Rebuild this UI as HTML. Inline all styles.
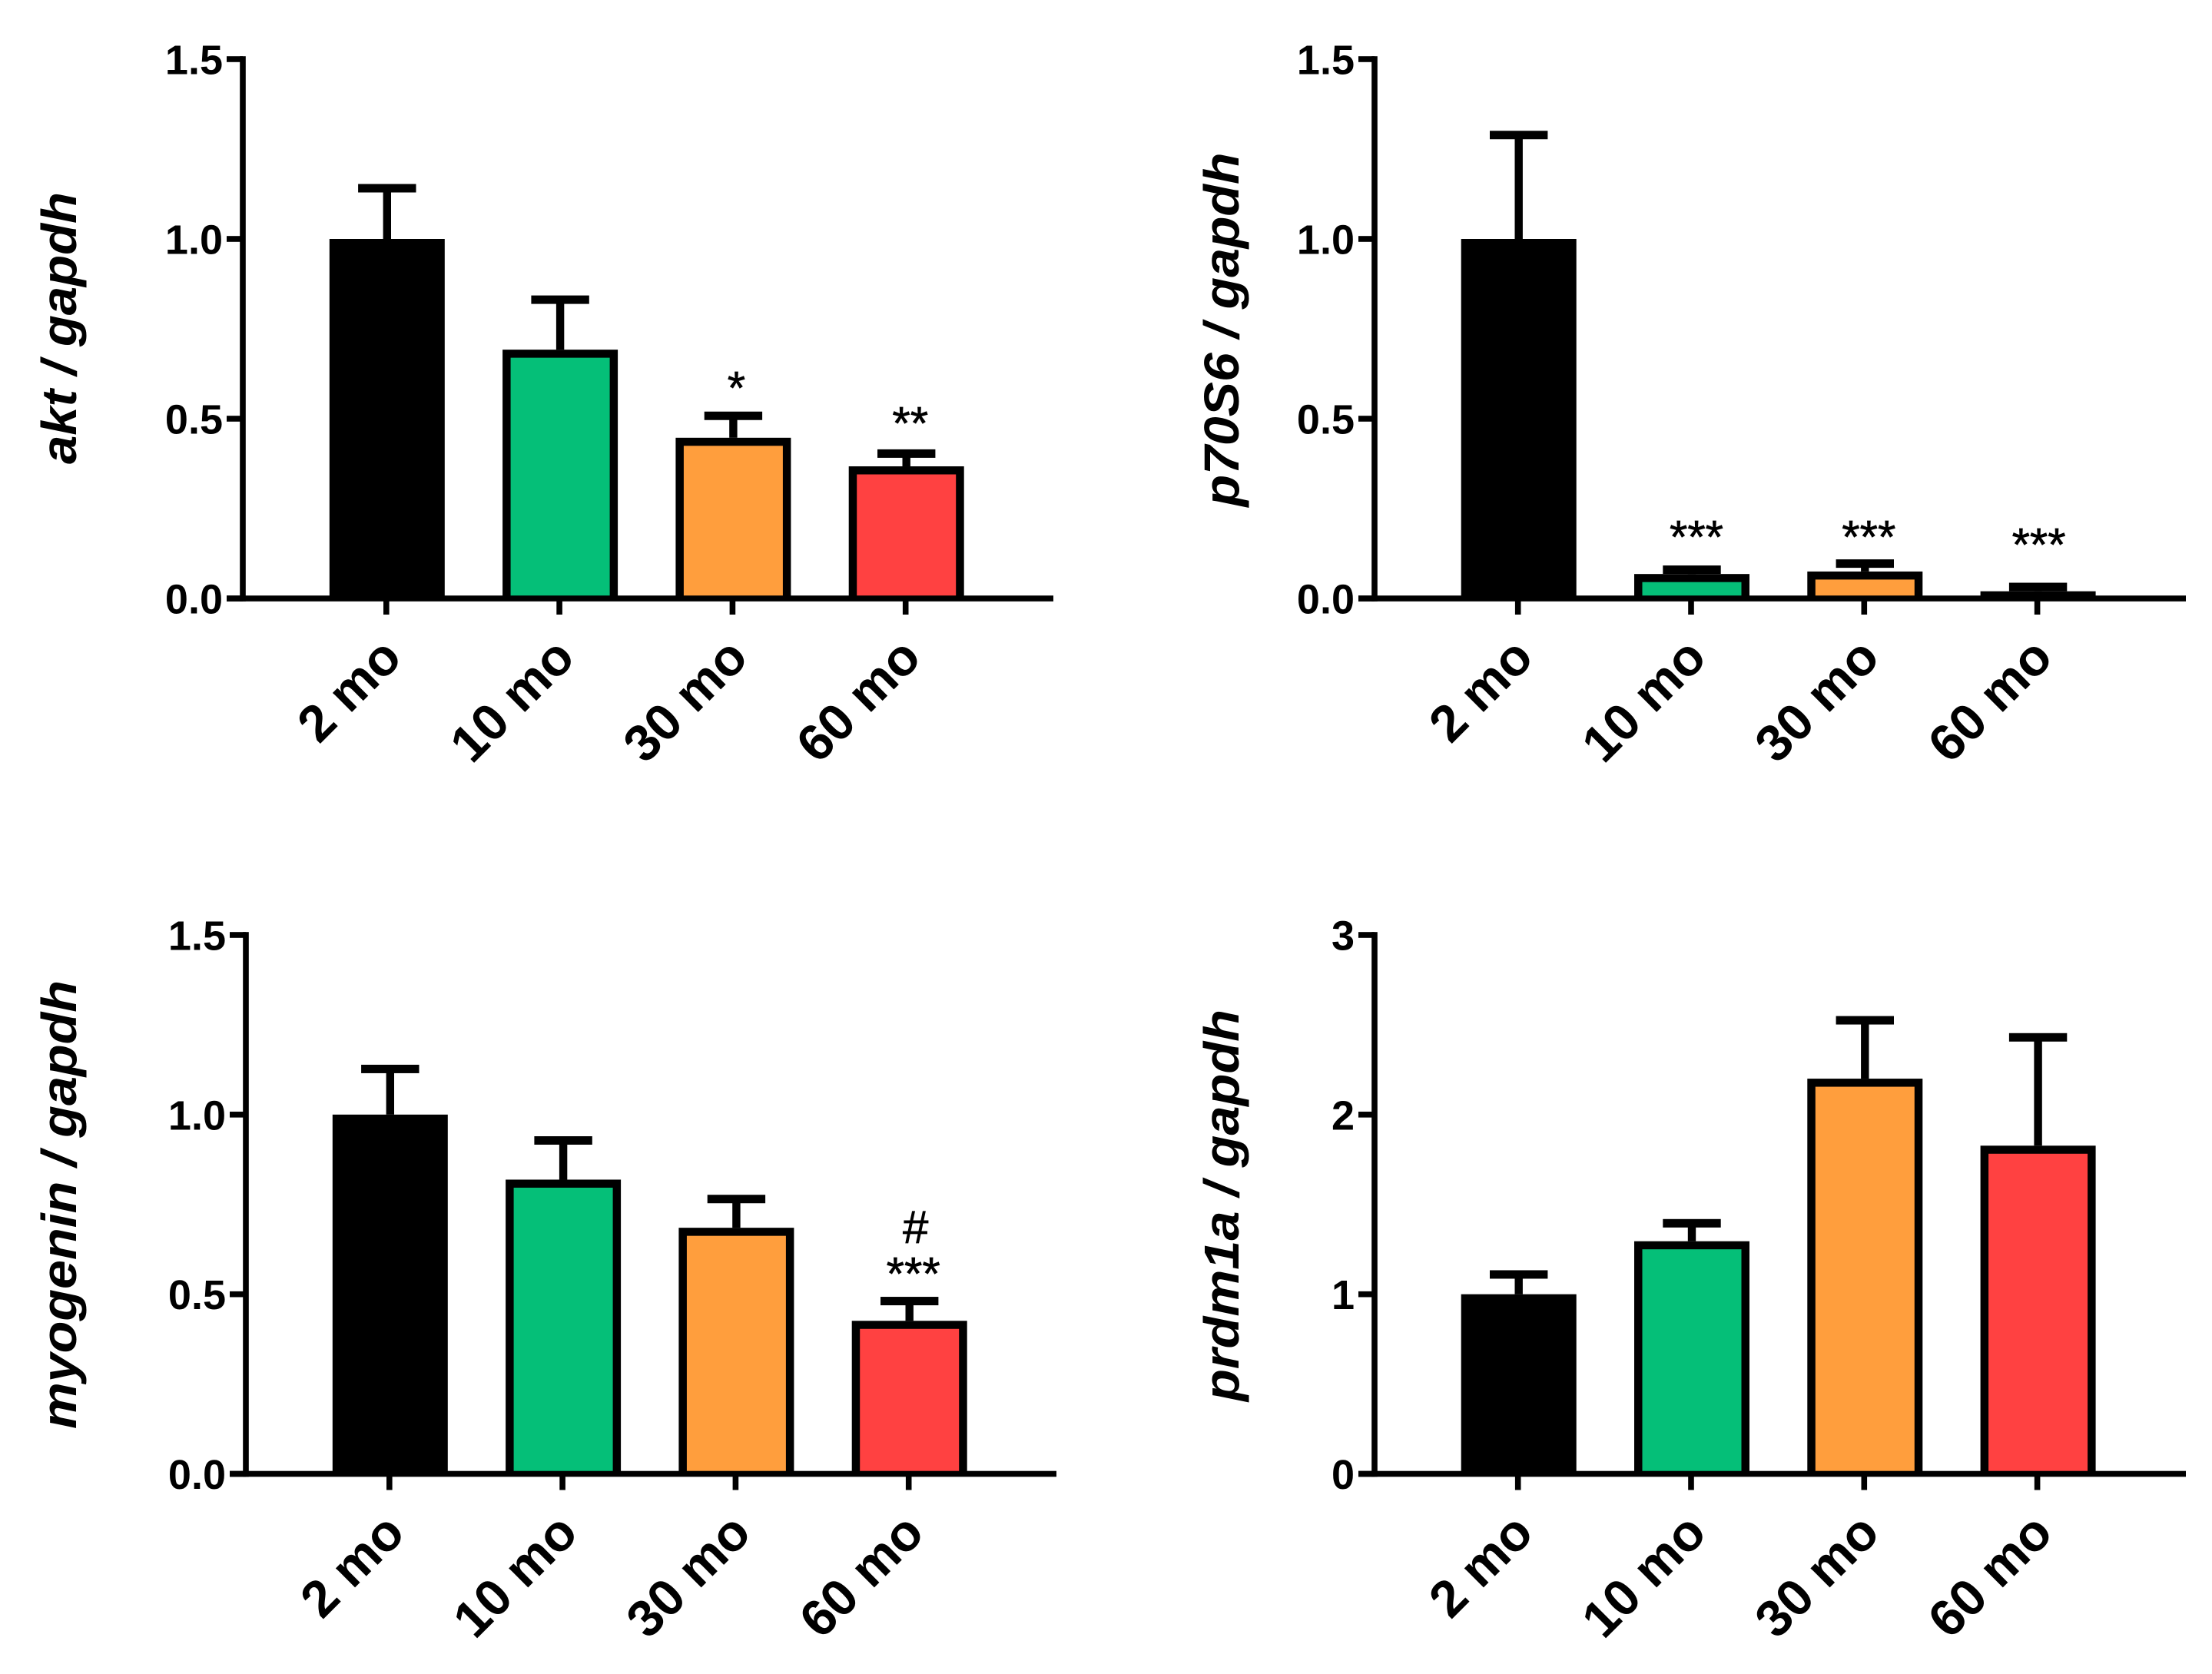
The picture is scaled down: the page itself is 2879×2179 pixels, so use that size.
<!DOCTYPE html>
<html lang="en">
<head>
<meta charset="utf-8">
<title>Relative mRNA expression by age</title>
<style>
html,body{margin:0;padding:0;background:#fff;}
svg{display:block;}
text{font-family:"Liberation Sans",Arial,sans-serif;fill:#000;}
</style>
</head>
<body>
<svg id="figure" xmlns="http://www.w3.org/2000/svg" width="2879" height="2179" viewBox="0 0 2879 2179"></svg>
<script>
// ---- data ----
const categories = ["2 mo", "10 mo", "30 mo", "60 mo"];
const barColors = ["#000000", "#05BF78", "#FF9E3D", "#FF4141"];

const aktValues = [1.0, 0.692, 0.447, 0.3675];
const aktErrors = [1.141, 0.831, 0.508, 0.403];
const aktTicks = ["0.0", "0.5", "1.0", "1.5"];
const aktMarks = [
  {text: "*", cat: 2, level: 0.605, dx: 4},
  {text: "**", cat: 3, level: 0.506, dx: 5}
];

const p70Values = [1.0, 0.068, 0.075, 0.02];
const p70Errors = [1.289, 0.08, 0.097, 0.032];
const p70Ticks = ["0.0", "0.5", "1.0", "1.5"];
const p70Marks = [
  {text: "***", cat: 1, level: 0.190, dx: 6},
  {text: "***", cat: 2, level: 0.190, dx: 5},
  {text: "***", cat: 3, level: 0.169, dx: 1}
];

const myogeninValues = [1.0, 0.819, 0.685, 0.426];
const myogeninErrors = [1.127, 0.928, 0.765, 0.481];
const myogeninTicks = ["0.0", "0.5", "1.0", "1.5"];
const myogeninMarks = [
  {text: "***", cat: 3, level: 0.576, dx: 5},
  {text: "#", cat: 3, level: 0.683, dx: 8}
];

const prdmValues = [1.0, 1.295, 2.2, 1.827];
const prdmErrors = [1.11, 1.395, 2.525, 2.43];
const prdmTicks = ["0", "1", "2", "3"];
const prdmMarks = [];

// ---- panel configuration ----
const panels = [
  {id: "akt", title: "akt / gapdh", values: aktValues, errors: aktErrors, ticks: aktTicks, max: 1.5, marks: aktMarks,
   axisX: 316, axisRight: 1371, y0: 779, yTop: 77, firstTick: 503.8, titleX: 99, titleY: 427, titleLen: 354},
  {id: "p70s6", title: "p70S6 / gapdh", values: p70Values, errors: p70Errors, ticks: p70Ticks, max: 1.5, marks: p70Marks,
   axisX: 1789, axisRight: 2845, y0: 779, yTop: 77, firstTick: 1976.7, titleX: 1612, titleY: 429, titleLen: 461},
  {id: "myogenin", title: "myogenin / gapdh", values: myogeninValues, errors: myogeninErrors, ticks: myogeninTicks, max: 1.5, marks: myogeninMarks,
   axisX: 320, axisRight: 1375, y0: 1918.5, yTop: 1217, firstTick: 507.8, titleX: 99, titleY: 1568, titleLen: 584},
  {id: "prdm1a", title: "prdm1a / gapdh", values: prdmValues, errors: prdmErrors, ticks: prdmTicks, max: 3, marks: prdmMarks,
   axisX: 1789, axisRight: 2845, y0: 1918.5, yTop: 1217, firstTick: 1976.7, titleX: 1612, titleY: 1569, titleLen: 510}
];

const SVGNS = "http://www.w3.org/2000/svg";
const root = document.getElementById("figure");
const slotWidth = 225.3;
const barWidth = 150;
const borderWidth = 10.5;
const lineWidth = 7.6;

function make(parent, tag, attrs) {
  const el = document.createElementNS(SVGNS, tag);
  for (const k in attrs) el.setAttribute(k, attrs[k]);
  parent.appendChild(el);
  return el;
}

function drawPanel(p) {
  const yScale = v => p.y0 - (v / p.max) * (p.y0 - p.yTop);
  const xScale = i => p.firstTick + i * slotWidth;

  const g = make(root, "g", {});
  
  

  // bars and error bars
  p.values.forEach((v, i) => {
    const cx = xScale(i);
    const top = yScale(v);
    const capY = yScale(p.errors[i]);

    const stem = make(g, "rect", {x: cx - 5.2, y: capY, width: 10.4, height: Math.max(0, top - capY), fill: "#000"});
    
    

    const cap = make(g, "rect", {x: cx - 37.7, y: capY - 5.5, width: 75.4, height: 11, fill: "#000"});
    
    

    const bar = make(g, "rect", {x: cx - barWidth / 2, y: top, width: barWidth, height: p.y0 - top, fill: "#000"});
    
    

    const innerH = p.y0 - top - borderWidth;
    if (i > 0 && innerH > 0) {
      const fill = make(g, "rect", {x: cx - barWidth / 2 + borderWidth, y: top + borderWidth, width: barWidth - 2 * borderWidth, height: innerH, fill: barColors[i]});
      
      
    }
  });

  // y axis
  const yAxis = make(g, "rect", {x: p.axisX - lineWidth / 2, y: p.yTop - lineWidth / 2, width: lineWidth, height: p.y0 - p.yTop + lineWidth, fill: "#000"});
  
  

  p.ticks.forEach((label, i) => {
    const value = Number(label);
    const y = yScale(value);
    const tick = make(g, "rect", {x: p.axisX - 21, y: y - lineWidth / 2, width: 21, height: lineWidth, fill: "#000"});
    
    
    const t = make(g, "text", {x: p.axisX - 26, y: y + 19.5, "text-anchor": "end", "font-size": 54, "font-weight": "bold"});
    t.textContent = label;
    
    
  });

  // x axis
  const xAxis = make(g, "rect", {x: p.axisX - 21, y: p.y0 - lineWidth / 2, width: p.axisRight - p.axisX + 21, height: lineWidth, fill: "#000"});
  
  

  categories.forEach((label, i) => {
    const cx = xScale(i) - 1;
    const tick = make(g, "rect", {x: cx - lineWidth / 2, y: p.y0, width: lineWidth, height: 21, fill: "#000"});
    
    
    const lx = cx + 23;
    const ly = p.y0 + 80;
    const t = make(g, "text", {x: lx, y: ly, "text-anchor": "end", "font-size": 67, "font-weight": "bold", transform: "rotate(-45 " + lx + " " + ly + ")"});
    t.textContent = label;
    
    
  });

  // y axis title
  const title = make(g, "text", {x: 0, y: 0, "text-anchor": "middle", "font-size": 64, "font-weight": "bold", "font-style": "italic",
    textLength: p.titleLen, lengthAdjust: "spacingAndGlyphs",
    transform: "translate(" + p.titleX + " " + p.titleY + ") rotate(-90)"});
  title.textContent = p.title;
  
  

  // significance marks
  p.marks.forEach(m => {
    const glyphOffset = m.text === "#" ? 19 : 29.5;
    const t = make(g, "text", {x: xScale(m.cat) + m.dx, y: yScale(m.level) + glyphOffset, "text-anchor": "middle", "font-size": 60, stroke: "#000", "stroke-width": 0.7});
    t.textContent = m.text;
    
    
  });
}

panels.forEach(drawPanel);
</script>
</body>
</html>
